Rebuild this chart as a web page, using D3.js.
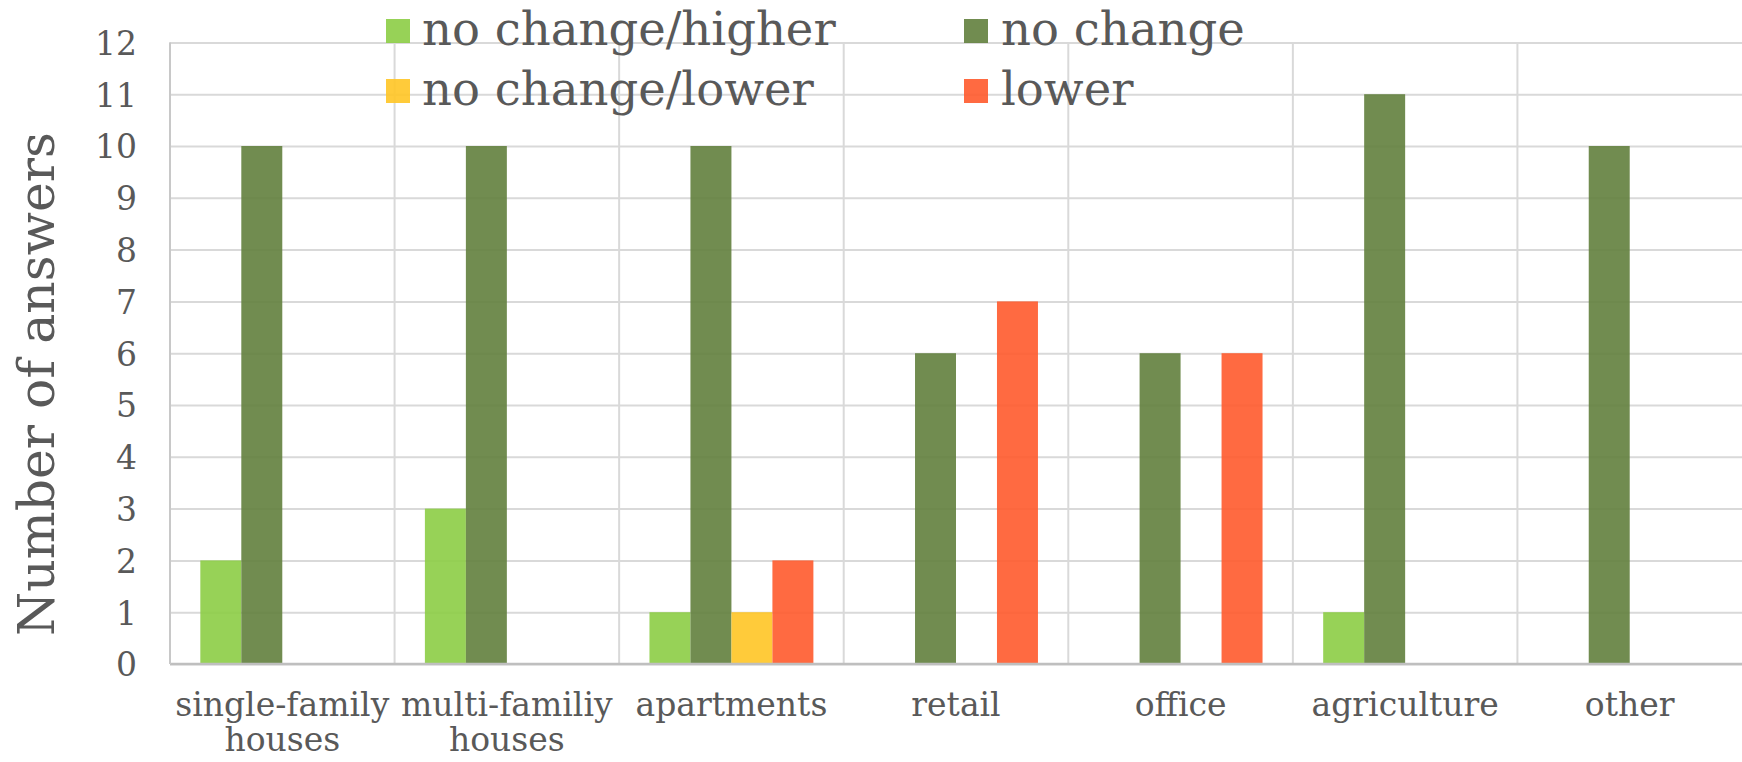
<!DOCTYPE html>
<html>
<head>
<meta charset="utf-8">
<script src="https://cdn.jsdelivr.net/npm/d3@7"></script>
<style>
  html, body { margin: 0; padding: 0; background: #ffffff; }
  svg { display: block; }
  text { font-family: "DejaVu Serif", serif; fill: #595959; }
</style>
</head>
<body>
<svg id="chart" width="1742" height="762"></svg>
<script>
// ---- data ----
const categories = ["single-family houses", "multi-familiy houses", "apartments", "retail", "office", "agriculture", "other"];
const seriesNames = ["no change/higher", "no change", "no change/lower", "lower"];
const noChangeHigher = [2, 3, 1, 0, 0, 1, 0];
const noChange = [10, 10, 10, 6, 6, 11, 10];
const noChangeLower = [0, 0, 1, 0, 0, 0, 0];
const lower = [0, 0, 2, 7, 6, 0, 0];
const yTicks = [0, 1, 2, 3, 4, 5, 6, 7, 8, 9, 10, 11, 12];
const yTitle = "Number of answers";

const seriesValues = [noChangeHigher, noChange, noChangeLower, lower];
const colors = ["#8CCD45", "#62803D", "#FFC525", "#FF5A2C"];

// ---- layout ----
const svg = d3.select("#chart");
const pLeft = 170, pRight = 1742, pTop = 42.4, pBottom = 664;

const x = d3.scaleBand().domain(categories).range([pLeft, pRight]).paddingInner(0).paddingOuter(0);
const xs = d3.scaleBand().domain(seriesNames).range([0, x.bandwidth()]).paddingInner(0).paddingOuter(0.74);
const y = d3.scaleLinear().domain([0, 12]).range([pBottom, pTop]);

// horizontal gridlines
const gy = svg.append("g")
  .attr("transform", `translate(${pLeft},0)`)
  .call(d3.axisLeft(y).tickValues(yTicks).tickSize(-(pRight - pLeft)).tickFormat(""));
gy.select(".domain").remove();
gy.selectAll(".tick line").attr("stroke", "#D9D9D9").attr("stroke-width", 2);

// vertical gridlines at category boundaries
const boundaries = categories.map(c => x(c));
svg.append("g").selectAll("line")
  .data(boundaries)
  .join("line")
  .attr("x1", d => d).attr("x2", d => d)
  .attr("y1", pTop).attr("y2", pBottom)
  .attr("stroke", "#D9D9D9").attr("stroke-width", 2);

// bars
const groups = svg.append("g").selectAll("g")
  .data(seriesNames)
  .join("g")
  .attr("fill", (d, i) => colors[i])
  .attr("fill-opacity", 0.9);
groups.each(function (s, si) {
  d3.select(this).selectAll("rect")
    .data(categories.map((c, ci) => ({ c, v: seriesValues[si][ci] })).filter(d => d.v > 0))
    .join("rect")
    .attr("x", d => x(d.c) + xs(s))
    .attr("width", xs.bandwidth())
    .attr("y", d => y(d.v))
    .attr("height", d => y(0) - y(d.v));
});

// axis lines
svg.append("line").attr("x1", pLeft).attr("x2", pRight).attr("y1", pBottom).attr("y2", pBottom)
  .attr("stroke", "#BFBFBF").attr("stroke-width", 2.5);
svg.append("line").attr("x1", pLeft).attr("x2", pLeft).attr("y1", pTop).attr("y2", pBottom)
  .attr("stroke", "#C8C8C8").attr("stroke-width", 2);

// y tick labels
const ya = svg.append("g")
  .attr("transform", `translate(137,0)`)
  .call(d3.axisLeft(y).tickValues(yTicks).tickSize(0).tickPadding(0).tickFormat(d3.format("d")));
ya.select(".domain").remove();
ya.selectAll("text")
  .attr("fill", "#595959")
  .style("font-family", "DejaVu Serif, serif")
  .style("font-size", "33px")
  .attr("dy", "0.36em");

// y title
svg.append("text")
  .attr("transform", `translate(54,384) rotate(-90)`)
  .attr("text-anchor", "middle")
  .style("font-size", "50.5px")
  .text(yTitle);

// x labels
const xl = svg.append("g").selectAll("text")
  .data(categories)
  .join("text")
  .attr("text-anchor", "middle")
  .attr("x", d => x(d) + x.bandwidth() / 2)
  .attr("y", 716)
  .style("font-size", "33px");
xl.each(function (d) {
  const words = d.split(" ");
  const t = d3.select(this);
  words.forEach((w, i) => {
    t.append("tspan").attr("x", x(d) + x.bandwidth() / 2).attr("dy", i === 0 ? 0 : 35).text(w);
  });
});

// legend
const legendPos = [
  { sx: 386, tx: 422, row: 0 },
  { sx: 964, tx: 1001, row: 0 },
  { sx: 386, tx: 422, row: 1 },
  { sx: 964, tx: 1001, row: 1 }
];
const legendOrder = [0, 1, 2, 3];
const lg = svg.append("g").selectAll("g")
  .data(legendOrder)
  .join("g");
lg.append("rect")
  .attr("x", (d, i) => legendPos[i].sx)
  .attr("y", (d, i) => 19 + legendPos[i].row * 60)
  .attr("width", 24).attr("height", 24)
  .attr("fill", d => colors[d]).attr("fill-opacity", 0.9);
lg.append("text")
  .attr("x", (d, i) => legendPos[i].tx)
  .attr("y", (d, i) => 45 + legendPos[i].row * 60)
  .style("font-size", "46.5px")
  .text(d => seriesNames[d]);
</script>
</body>
</html>
